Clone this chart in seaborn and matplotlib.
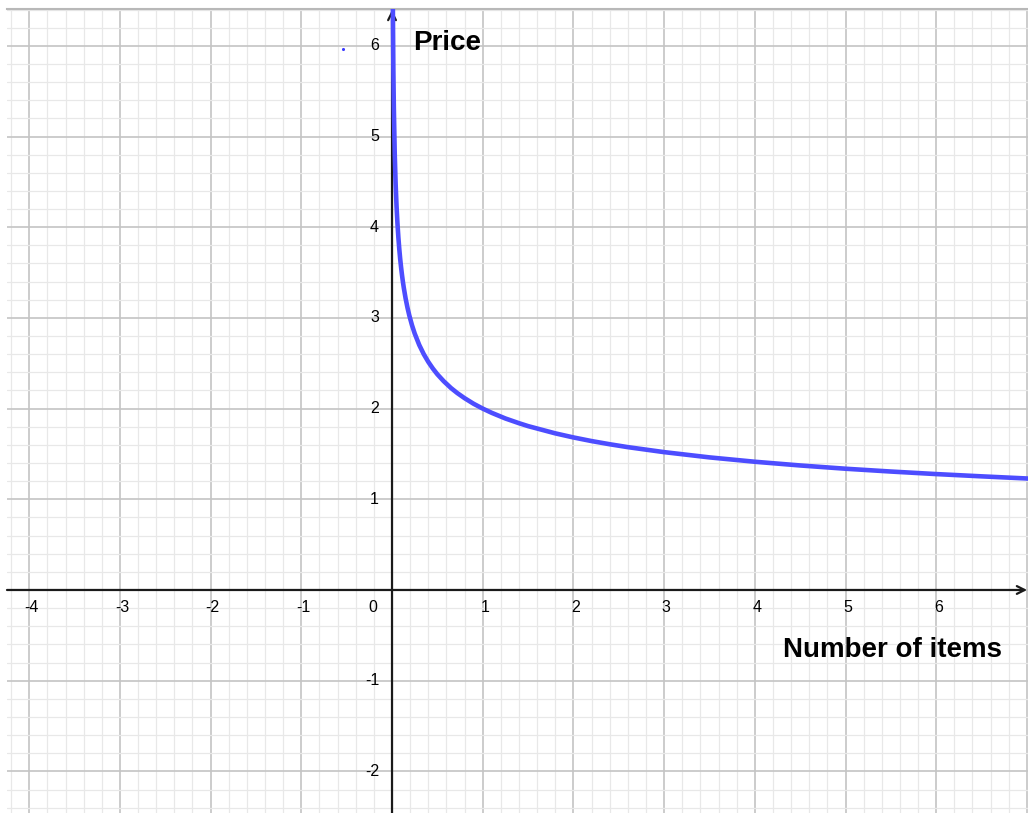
import matplotlib
matplotlib.use("Agg")
import matplotlib.pyplot as plt
import seaborn as sns
from matplotlib.ticker import MultipleLocator

# Demand curve: price against number of items
items = [0.006, 0.008, 0.01, 0.015, 0.02, 0.03, 0.04, 0.05, 0.06, 0.07, 0.08,
         0.09, 0.1, 0.11, 0.12, 0.13, 0.15, 0.17, 0.19, 0.22, 0.25, 0.3, 0.35,
         0.4, 0.45, 0.5, 0.57, 0.65, 0.72, 0.8, 0.9, 1.0, 1.1, 1.25, 1.4, 1.5,
         1.8, 2.0, 2.2, 2.4, 2.6, 3.0, 3.5, 4.0, 4.5, 5.0, 5.5, 6.0, 6.5, 7.05]
price = [7.19, 6.69, 6.325, 5.715, 5.318, 4.806, 4.472, 4.229, 4.041, 3.888, 3.761,
         3.651, 3.557, 3.473, 3.398, 3.331, 3.214, 3.115, 3.029, 2.920, 2.828, 2.702,
         2.600, 2.515, 2.442, 2.378, 2.302, 2.227, 2.171, 2.115, 2.053, 2.0, 1.953,
         1.891, 1.839, 1.807, 1.727, 1.682, 1.642, 1.607, 1.575, 1.520, 1.462,
         1.414, 1.373, 1.337, 1.306, 1.278, 1.253, 1.227]

# Isolated point near the vertical axis
point_x = [-0.54]
point_y = [5.96]

x_ticks = [-4, -3, -2, -1, 0, 1, 2, 3, 4, 5, 6]
y_ticks = [-2, -1, 1, 2, 3, 4, 5, 6]

sns.set_style("white")
plt.rcParams["font.family"] = ["Liberation Sans", "DejaVu Sans"]
plt.rcParams["text.color"] = "black"

fig = plt.figure(figsize=(10.28, 8.13), dpi=100)
ax = fig.add_axes([7 / 1028, 0, 1021 / 1028, 804 / 813])

xmin, xmax = -4.245, 7.012
ymin, ymax = -2.459, 6.406
ax.set_xlim(xmin, xmax)
ax.set_ylim(ymin, ymax)

# Square grid: major lines every unit, minor every fifth
ax.xaxis.set_major_locator(MultipleLocator(1))
ax.yaxis.set_major_locator(MultipleLocator(1))
ax.xaxis.set_minor_locator(MultipleLocator(0.2))
ax.yaxis.set_minor_locator(MultipleLocator(0.2))
ax.grid(which="minor", color="#e8e8e8", lw=0.9)
ax.grid(which="major", color="#c4c4c4", lw=1.2)
ax.set_axisbelow(True)
ax.tick_params(which="both", length=0, labelbottom=False, labelleft=False)
for side in ["left", "right", "bottom"]:
    ax.spines[side].set_visible(False)
ax.spines["top"].set_color("#b8b8b8")
ax.spines["top"].set_linewidth(1.5)

# Coordinate axes with arrow heads
arrow_kw = dict(arrowstyle="->", lw=1.6, color="#1a1a1a",
                mutation_scale=14, shrinkA=0, shrinkB=0)
ax.annotate("", xy=(xmax - 0.01, 0), xytext=(xmin, 0), arrowprops=arrow_kw)
ax.annotate("", xy=(0, ymax - 0.01), xytext=(0, ymin), arrowprops=arrow_kw)

# Curve and point
sns.lineplot(x=items, y=price, sort=False, estimator=None, color="#4d4dff",
             lw=3.3, ax=ax, zorder=5, solid_joinstyle="round",
             solid_capstyle="round")
ax.scatter(point_x, point_y, s=5, color="#3a3aff", zorder=6, linewidths=0)

# Tick labels placed next to the axes
for v in x_ticks:
    if v == 0:
        ax.annotate("0", (0, 0), xytext=(-19, -18), textcoords="offset pixels",
                    ha="center", va="center", fontsize=11.5, color="black")
    else:
        ax.annotate(str(v), (v, 0), xytext=(2, -18), textcoords="offset pixels",
                    ha="center", va="center", fontsize=11.5, color="black")
for v in y_ticks:
    ax.annotate(str(v), (0, v), xytext=(-13, 0), textcoords="offset pixels",
                ha="right", va="center", fontsize=11.5, color="black")

# Axis titles
ax.text(0.23, 5.954, "Price", fontsize=20, fontweight="bold", ha="left",
        va="baseline", color="black")
ax.text(4.31, -0.739, "Number of items", fontsize=20, fontweight="bold",
        ha="left", va="baseline", color="black")

fig.savefig("out.png", dpi=100)
